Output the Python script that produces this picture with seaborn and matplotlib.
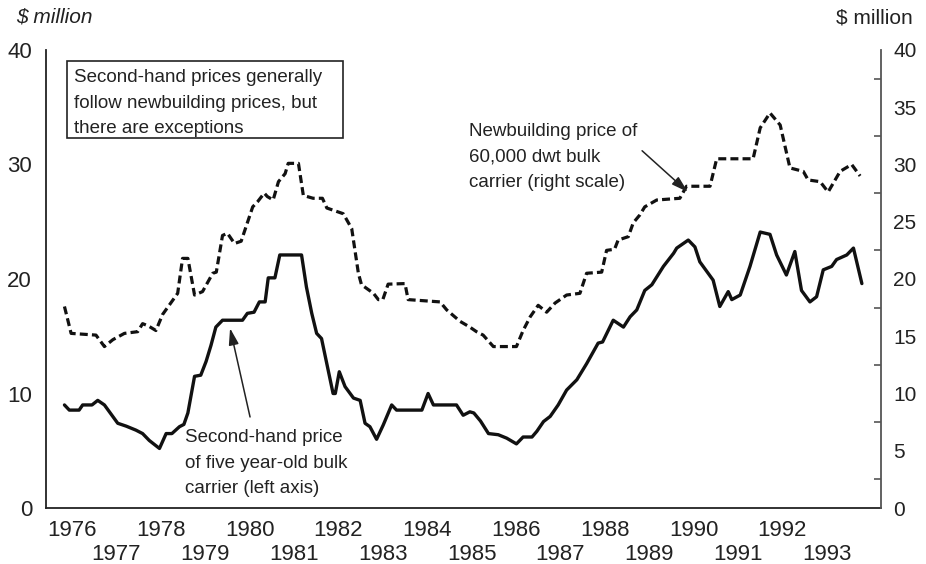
import matplotlib
matplotlib.use("Agg")
import matplotlib.pyplot as plt
import seaborn as sns
import pandas as pd
from matplotlib.patches import Rectangle

# Second-hand price of five year-old bulk carrier ($ million, left axis)
secondhand_year = [
    1975.83, 1975.94, 1976.16, 1976.24, 1976.45, 1976.58, 1976.73, 1977.03, 1977.22, 1977.44,
    1977.59, 1977.74, 1977.97, 1978.12, 1978.25, 1978.42, 1978.52, 1978.61, 1978.76, 1978.90,
    1979.02, 1979.13, 1979.24, 1979.39, 1979.84, 1979.95, 1980.10, 1980.22, 1980.35, 1980.42,
    1980.57, 1980.68, 1981.17, 1981.28, 1981.40, 1981.51, 1981.62, 1981.88, 1981.93, 1982.02,
    1982.15, 1982.34, 1982.49, 1982.60, 1982.71, 1982.86, 1983.01, 1983.20, 1983.31, 1983.88,
    1984.02, 1984.14, 1984.66, 1984.81, 1984.96, 1985.05, 1985.20, 1985.38, 1985.60, 1985.79,
    1986.01, 1986.16, 1986.36, 1986.47, 1986.62, 1986.77, 1986.95, 1987.14, 1987.37, 1987.59,
    1987.85, 1987.95, 1988.19, 1988.42, 1988.57, 1988.72, 1988.90, 1989.06, 1989.32, 1989.55,
    1989.62, 1989.88, 1990.03, 1990.14, 1990.44, 1990.59, 1990.78, 1990.86, 1991.05, 1991.27,
    1991.50, 1991.72, 1991.87, 1992.09, 1992.28, 1992.43, 1992.62, 1992.77, 1992.92, 1993.11,
    1993.22, 1993.45, 1993.60, 1993.79,
]
secondhand_price = [
    9.0, 8.55, 8.55, 9.0, 9.0, 9.4, 9.0, 7.4, 7.15, 6.8,
    6.5, 5.9, 5.2, 6.5, 6.5, 7.1, 7.3, 8.3, 11.5, 11.6,
    12.8, 14.2, 15.8, 16.4, 16.4, 17.0, 17.1, 18.0, 18.0, 20.1,
    20.1, 22.1, 22.1, 19.3, 17.0, 15.25, 14.8, 10.0, 10.0, 11.9,
    10.6, 9.6, 9.4, 7.4, 7.1, 6.0, 7.25, 9.0, 8.55, 8.55,
    10.0, 9.0, 9.0, 8.1, 8.4, 8.3, 7.6, 6.5, 6.4, 6.1,
    5.6, 6.2, 6.2, 6.7, 7.55, 8.0, 9.0, 10.3, 11.2, 12.6,
    14.4, 14.5, 16.4, 15.8, 16.7, 17.3, 19.0, 19.5, 21.1, 22.25,
    22.7, 23.4, 22.8, 21.5, 19.9, 17.6, 18.9, 18.2, 18.6, 21.1,
    24.1, 23.9, 22.1, 20.35, 22.4, 19.0, 18.0, 18.45, 20.8, 21.1,
    21.7, 22.1, 22.7, 19.6,
]

# Newbuilding price of 60,000 dwt bulk carrier ($ million, right scale)
newbuild_year = [
    1975.83, 1975.98, 1976.54, 1976.73, 1976.92, 1977.18, 1977.48, 1977.59, 1977.72, 1977.89,
    1978.04, 1978.38, 1978.49, 1978.61, 1978.76, 1978.94, 1979.17, 1979.25, 1979.39, 1979.50,
    1979.66, 1979.81, 1980.07, 1980.18, 1980.33, 1980.40, 1980.53, 1980.65, 1980.80, 1980.87,
    1981.10, 1981.21, 1981.43, 1981.64, 1981.74, 1982.11, 1982.30, 1982.45, 1982.52, 1982.79,
    1982.90, 1983.00, 1983.12, 1983.50, 1983.57, 1984.29, 1984.44, 1984.74, 1984.96, 1985.11,
    1985.26, 1985.49, 1986.01, 1986.16, 1986.32, 1986.50, 1986.69, 1986.88, 1987.14, 1987.44,
    1987.59, 1987.93, 1988.04, 1988.22, 1988.30, 1988.53, 1988.64, 1988.79, 1988.90, 1989.17,
    1989.69, 1989.84, 1990.37, 1990.52, 1991.34, 1991.50, 1991.72, 1991.95, 1992.17, 1992.47,
    1992.58, 1992.85, 1993.03, 1993.30, 1993.56, 1993.75,
]
newbuild_price = [
    17.6, 15.25, 15.1, 14.1, 14.7, 15.25, 15.4, 16.1, 15.9, 15.5,
    16.9, 18.75, 21.8, 21.8, 18.6, 18.9, 20.5, 20.6, 23.8, 24.0,
    23.1, 23.3, 26.3, 26.75, 27.5, 27.2, 26.9, 28.5, 29.2, 30.1,
    30.1, 27.3, 27.05, 27.05, 26.2, 25.7, 24.4, 20.5, 19.5, 18.75,
    18.2, 18.2, 19.55, 19.6, 18.2, 18.0, 17.3, 16.3, 15.8, 15.4,
    15.1, 14.1, 14.1, 15.5, 16.7, 17.7, 17.1, 17.9, 18.6, 18.75,
    20.5, 20.6, 22.5, 22.6, 23.4, 23.7, 24.9, 25.6, 26.3, 26.9,
    27.05, 28.1, 28.1, 30.5, 30.5, 33.2, 34.5, 33.45, 29.7, 29.4,
    28.65, 28.5, 27.6, 29.4, 30.0, 29.0,
]

even_years = list(range(1976, 1993, 2))
odd_years = list(range(1977, 1994, 2))
left_ticks = [0, 10, 20, 30, 40]
right_ticks = [0, 5, 10, 15, 20, 25, 30, 35, 40]
right_minor = [2.5, 7.5, 12.5, 17.5, 22.5, 27.5, 32.5, 37.5]

sns.set_style("white")
plt.rcParams['font.family'] = ['Liberation Sans', 'DejaVu Sans']

W, H = 926, 564
fig = plt.figure(figsize=(W / 100, H / 100), dpi=100)
ax = fig.add_axes([46 / W, 1 - 508 / H, (881 - 46) / W, (508 - 50) / H])
ax2 = ax.twinx()

sh = pd.DataFrame({'year': secondhand_year, 'price': secondhand_price})
nb = pd.DataFrame({'year': newbuild_year, 'price': newbuild_price})

sns.lineplot(data=sh, x='year', y='price', ax=ax, color='#111111', lw=2.4, estimator=None)
sns.lineplot(data=nb, x='year', y='price', ax=ax2, color='#111111', lw=2.3, estimator=None)
ax2.lines[0].set_dashes((2.5, 1.3))

ax.set_xlim(1976 - 26 / 44.4, 1976 + 809 / 44.4)
ax.set_ylim(0, 40)
ax2.set_ylim(0, 40)
ax.set_xlabel('')
ax.set_ylabel('')
ax2.set_ylabel('')

# spines
for s in ['top', 'right']:
    ax.spines[s].set_visible(False)
for s in ['top', 'left', 'bottom']:
    ax2.spines[s].set_visible(False)
ax.spines['left'].set_color('#222222')
ax.spines['bottom'].set_color('#222222')
ax.spines['left'].set_linewidth(1.3)
ax.spines['bottom'].set_linewidth(1.3)
ax2.spines['right'].set_color('#555555')
ax2.spines['right'].set_linewidth(1.3)

# left axis
ax.set_yticks(left_ticks)
ax.set_yticklabels([str(v) for v in left_ticks])
ax.tick_params(axis='y', length=0, pad=10, labelsize=16, colors='#222222')

# right axis
ax2.set_yticks(right_ticks)
ax2.set_yticklabels([str(v) for v in right_ticks])
ax2.set_yticks(right_minor, minor=True)
ax2.tick_params(axis='y', which='major', length=0, pad=9, labelsize=15, colors='#222222')
ax2.tick_params(axis='y', which='minor', direction='in', length=5, width=1.2, color='#555555')

# x axis: even years on first row, odd years on second
ax.set_xticks(even_years)
ax.set_xticklabels([str(y) for y in even_years])
ax.set_xticks(odd_years, minor=True)
ax.set_xticklabels([str(y) for y in odd_years], minor=True)
ax.tick_params(axis='x', which='major', length=0, pad=8.5, labelsize=16, colors='#222222')
ax.tick_params(axis='x', which='minor', length=0, pad=26, labelsize=16, colors='#222222')

# axis titles
fig.text(16 / W, 1 - 17 / H, r'\$ million', style='italic', fontsize=15, va='center', ha='left', color='#222222')
fig.text(913 / W, 1 - 18 / H, r'\$ million', fontsize=15, va='center', ha='right', color='#222222')

# boxed note (y given at the baseline of the last line)
fig.add_artist(Rectangle((67 / W, 1 - 138 / H), (343 - 67) / W, (138 - 61) / H,
                         transform=fig.transFigure, facecolor='white', edgecolor='#222222', lw=1.2))
fig.text(74 / W, 1 - 133 / H,
         'Second-hand prices generally\nfollow newbuilding prices, but\nthere are exceptions',
         fontsize=13.5, va='baseline', ha='left', linespacing=1.65, color='#222222')

# series labels
fig.text(469 / W, 1 - 187 / H, 'Newbuilding price of\n60,000 dwt bulk\ncarrier (right scale)',
         fontsize=13.5, va='baseline', ha='left', linespacing=1.65, color='#222222')
fig.text(185 / W, 1 - 493 / H, 'Second-hand price\nof five year-old bulk\ncarrier (left axis)',
         fontsize=13.5, va='baseline', ha='left', linespacing=1.65, color='#222222')

arrow = dict(arrowstyle='-|>,head_length=1.0,head_width=0.3', color='#222222', lw=1.1,
             shrinkA=0, shrinkB=0, mutation_scale=10)
ax2.annotate('', xy=(1989.87, 27.6), xytext=(1988.84, 31.2), arrowprops=arrow)
ax.annotate('', xy=(1979.56, 15.7), xytext=(1980.01, 7.95), arrowprops=arrow)

fig.savefig('out.png', dpi=100, facecolor='white')
